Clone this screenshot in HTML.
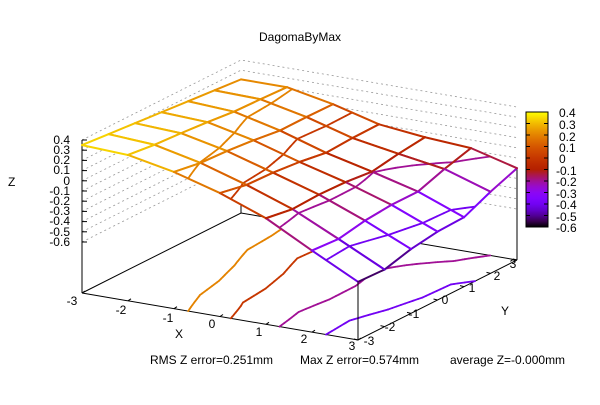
<!DOCTYPE html>
<html><head><meta charset="utf-8"><style>
body{margin:0;background:#fff}
svg text{font-family:"Liberation Sans",sans-serif;font-size:12px;fill:#000}
</style></head><body>
<svg id="s" width="600" height="400" xmlns="http://www.w3.org/2000/svg">
<defs><linearGradient id="cb" x1="0" y1="1" x2="0" y2="0"></linearGradient></defs>
<rect width="600" height="400" fill="#fff"/>
<g id="bg"></g>
<text x="300" y="41" text-anchor="middle">DagomaByMax</text>
<text x="8" y="186">Z</text>
<g text-anchor="end">
<text x="70" y="144">0.4</text><text x="70" y="154">0.3</text><text x="70" y="164">0.2</text><text x="70" y="174">0.1</text><text x="70" y="185">0</text><text x="70" y="195">-0.1</text><text x="70" y="205">-0.2</text><text x="70" y="215">-0.3</text><text x="70" y="225">-0.4</text><text x="70" y="236">-0.5</text><text x="70" y="246">-0.6</text>
</g>
<g text-anchor="middle">
<text x="72" y="305">-3</text><text x="121" y="314">-2</text><text x="168" y="322">-1</text><text x="212" y="328">0</text><text x="259" y="336">1</text><text x="304" y="343">2</text><text x="352" y="350">3</text>
<text x="369" y="345">-3</text><text x="390" y="331">-2</text><text x="414" y="318">-1</text><text x="445" y="304">0</text><text x="472" y="292">1</text><text x="497" y="280">2</text><text x="513" y="268">3</text>
</g>
<text x="175" y="338">X</text><text x="501" y="315">Y</text>
<text x="150" y="364">RMS Z error=0.251mm</text><text x="300" y="364">Max Z error=0.574mm</text><text x="450" y="364">average Z=-0.000mm</text>
<g text-anchor="start">
<text x="559" y="117">0.4</text><text x="559" y="129">0.3</text><text x="559" y="141">0.2</text><text x="559" y="152">0.1</text><text x="559" y="163">0</text><text x="556" y="175">-0.1</text><text x="556" y="186">-0.2</text><text x="556" y="198">-0.3</text><text x="556" y="209">-0.4</text><text x="556" y="221">-0.5</text><text x="556" y="232">-0.6</text>
</g>
</svg>
<script>
var S=document.getElementById('s'),BG=document.getElementById('bg'),NS='http://www.w3.org/2000/svg';
function el(t,a,p){var e=document.createElementNS(NS,t);for(var k in a)e.setAttribute(k,a[k]);(p||S).appendChild(e);return e;}
function col(z){var g=Math.max(0,Math.min(1,(z+0.6)/1.0));var r=Math.sqrt(g),gg=g*g*g,b=Math.max(0,Math.sin(2*Math.PI*g));return 'rgb('+Math.round(r*255)+','+Math.round(gg*255)+','+Math.round(b*255)+')';}
function P(x,y,z){var bx=82+(x+3)/6*276+(y+3)/6*159,by=293+(x+3)/6*47-(y+3)/6*80;return [bx,by-(z+1.1)*102];}
var F=[0.35,0.33,0.24,0.11,-0.06,-0.3,-0.53];
var Bk=[0.21,0.21,0.12,0.0,-0.05,-0.08,-0.2];
var R=[-0.53,-0.54,-0.47,-0.43,-0.42,-0.30,-0.2];
function li(a,v){var i=Math.floor(v+3);if(i>=6)i=5;if(i<0)i=0;var f=v+3-i;return a[i]*(1-f)+a[i+1]*f;}
function L(y){var t=(y+3)/6;return 0.35*(1-t)+0.21*t;}
function Z(x,y){var s=(x+3)/6,t=(y+3)/6;
var c=(1-s)*(1-t)*0.35+s*(1-t)*(-0.53)+s*t*(-0.2)+(1-s)*t*0.21;
return (1-s)*L(y)+s*li(R,y)+(1-t)*li(F,x)+t*li(Bk,x)-c;}
var LV=[0.2,0.07,-0.13,-0.37];var LC=[0.2,0,-0.2,-0.4];
function contours(x0,y0,w,n,zoff,parent){
 var h=w/n;
 for(var i=0;i<n;i++)for(var j=0;j<n;j++){
  var xa=x0+i*h,ya=y0+j*h;
  var v=[[xa,ya],[xa+h,ya],[xa+h,ya+h],[xa,ya+h]];
  var zz=v.map(function(p){return Z(p[0],p[1]);});
  LV.forEach(function(lv,li2){
   var pts=[];
   for(var k=0;k<4;k++){var a=zz[k],b=zz[(k+1)%4];
    if((a-lv)*(b-lv)<0){var f=(lv-a)/(b-a);var p=v[k],q=v[(k+1)%4];
     var X=p[0]+(q[0]-p[0])*f,Y=p[1]+(q[1]-p[1])*f;pts.push(P(X,Y,zoff===null?lv:zoff));}}
   if(pts.length>=2)el('line',{x1:pts[0][0],y1:pts[0][1],x2:pts[1][0],y2:pts[1][1],stroke:col(LC[li2]),'stroke-width':1.8,'stroke-linecap':'round'},parent);
  });
 }
}
for(var i=0;i<11;i++){var z=0.4-i*0.1;var a=P(-3,-3,z),b=P(-3,3,z),c=P(3,3,z);
el('polyline',{points:a+' '+b+' '+c,fill:'none',stroke:'#999','stroke-width':0.8,'stroke-dasharray':'2,3'},BG);}
var A=P(-3,-3,-1.1),B=P(3,-3,-1.1),C=P(3,3,-1.1),D=P(-3,3,-1.1);
el('polyline',{points:A+' '+D+' '+C,fill:'none',stroke:'#000','stroke-width':1},BG);
el('polyline',{points:A+' '+B+' '+C,fill:'none',stroke:'#000','stroke-width':1},BG);
el('line',{x1:D[0],y1:D[1],x2:D[0],y2:D[1]-8,stroke:'#000'},BG);
el('line',{x1:82,y1:140,x2:82,y2:293,stroke:'#000'},BG);
for(var i=0;i<11;i++){var y=140+i*10.2;el('line',{x1:82,y1:y,x2:87,y2:y,stroke:'#000'},BG);}
for(var k=-3;k<=3;k++){var p=P(k,-3,-1.1);el('line',{x1:p[0],y1:p[1],x2:p[0]+3,y2:p[1]-2,stroke:'#000'},BG);
var q=P(3,k,-1.1);el('line',{x1:q[0],y1:q[1],x2:q[0]-4,y2:q[1]-1,stroke:'#000'},BG);}
contours(-3,-3,6,48,-1.1,BG);
var f1=P(3,-3,Z(3,-3));el('line',{x1:f1[0],y1:f1[1],x2:B[0],y2:B[1],stroke:'#000'});
var f2=P(3,3,Z(3,3));el('line',{x1:f2[0],y1:f2[1],x2:C[0],y2:C[1],stroke:'#000'});
var qs=[];for(var x=-3;x<3;x++)for(var y=-3;y<3;y++)qs.push([x,y]);
qs.sort(function(a,b){return (a[0]-a[1])-(b[0]-b[1]);});
qs.forEach(function(q){var x=q[0],y=q[1];
var v=[[x,y],[x+1,y],[x+1,y+1],[x,y+1]];
var pts=v.map(function(p){return P(p[0],p[1],Z(p[0],p[1]));});
el('polygon',{points:pts.join(' '),fill:'#fff',stroke:'#fff','stroke-width':0.5});
contours(x,y,1,4,null,S);
for(var i=0;i<4;i++){var a=v[i],b=v[(i+1)%4];var za=Z(a[0],a[1]),zb=Z(b[0],b[1]);var pa=P(a[0],a[1],za),pb=P(b[0],b[1],zb);
el('line',{x1:pa[0],y1:pa[1],x2:pb[0],y2:pb[1],stroke:col((za+zb)/2),'stroke-width':2,'stroke-linecap':'round'});}});
var G=document.getElementById('cb');for(var i=0;i<=20;i++){el('stop',{offset:i/20,'stop-color':col(-0.6+i/20)},G);}
el('rect',{x:526,y:112,width:22,height:115,fill:'url(#cb)',stroke:'#000'});
for(var i=0;i<11;i++){var y=112+i*11.5;el('line',{x1:526,y1:y,x2:530,y2:y,stroke:'#000'});el('line',{x1:544,y1:y,x2:548,y2:y,stroke:'#000'});}
</script>
</body></html>
